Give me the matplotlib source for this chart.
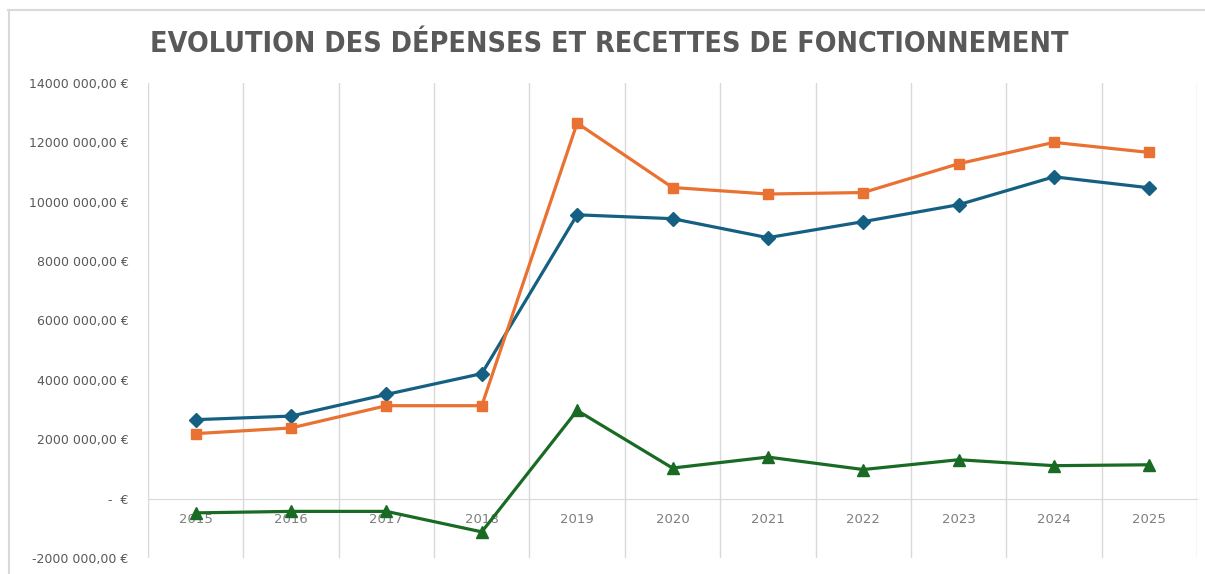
import matplotlib
matplotlib.use("Agg")
import matplotlib.pyplot as plt
from matplotlib.lines import Line2D
from matplotlib.ticker import FuncFormatter

years = ["2015", "2016", "2017", "2018", "2019", "2020", "2021", "2022", "2023", "2024", "2025"]
# values in euros
depenses = [2660000, 2780000, 3510000, 4210000, 9560000, 9430000, 8790000, 9330000, 9900000, 10840000, 10470000]
recettes = [2190000, 2380000, 3130000, 3130000, 12650000, 10480000, 10260000, 10310000, 11280000, 12000000, 11660000]
solde = [-480000, -430000, -430000, -1120000, 2970000, 1030000, 1400000, 980000, 1310000, 1110000, 1140000]

BLUE = "#156082"
ORANGE = "#E97132"
GREEN = "#196B24"
GRID = "#D9D9D9"
TXT = "#595959"


def euro_fmt(v, pos):
    if abs(v) < 1:
        return "-  €"
    s = f"{abs(v):,.2f}".replace(",", " ").replace(".", ",")
    # the source shows no separator between millions and thousands
    if abs(v) >= 1_000_000:
        s = s.replace(" ", "", 1)
    return ("-" if v < 0 else "") + s + " €"


fig = plt.figure(figsize=(12.05, 5.74), dpi=100)
ax = fig.add_axes([148 / 1205, 1 - 558 / 574, (1197 - 148) / 1205, (558 - 83) / 574])

x = list(range(len(years)))
ax.plot(x, depenses, color=BLUE, lw=2.3, marker="D", ms=7, zorder=3)
ax.plot(x, recettes, color=ORANGE, lw=2.3, marker="s", ms=7, zorder=3)
ax.plot(x, solde, color=GREEN, lw=2.3, marker="^", ms=8, zorder=3)

ax.set_xlim(-0.5, len(years) - 0.5)
ax.set_ylim(-2_000_000, 14_000_000)
ax.set_yticks(range(-2_000_000, 14_000_001, 2_000_000))
ax.yaxis.set_major_formatter(FuncFormatter(euro_fmt))

ax.set_xticks(x)
ax.set_xticklabels(years, family="DejaVu Sans Mono", fontweight="bold")
ax.set_xticks([i - 0.5 for i in range(len(years) + 1)], minor=True)
ax.grid(which="minor", axis="x", color=GRID, lw=1)
ax.tick_params(axis="x", which="both", length=0, pad=10, labelsize=9.5, labelcolor="#7F7F7F")
ax.tick_params(axis="y", length=0, pad=14, labelsize=9, labelcolor=TXT)

for side in ["top", "right", "left"]:
    ax.spines[side].set_visible(False)
ax.spines["bottom"].set_position(("data", 0))
ax.spines["bottom"].set_color(GRID)

fig.text(0.506, 0.924, "EVOLUTION DES DÉPENSES ET RECETTES DE FONCTIONNEMENT",
         ha="center", va="center", fontsize=20.5, fontweight="bold", color=TXT,
         family=["Liberation Sans Narrow", "DejaVu Sans"], fontstretch="condensed")

# chart-area border (only top and left edges are visible in the source)
fig.add_artist(Line2D([8 / 1205, 1], [1 - 10 / 574] * 2, transform=fig.transFigure, color=GRID, lw=1.5))
fig.add_artist(Line2D([9 / 1205] * 2, [0, 1 - 10 / 574], transform=fig.transFigure, color=GRID, lw=1.5))

fig.savefig("out.png", dpi=100)
